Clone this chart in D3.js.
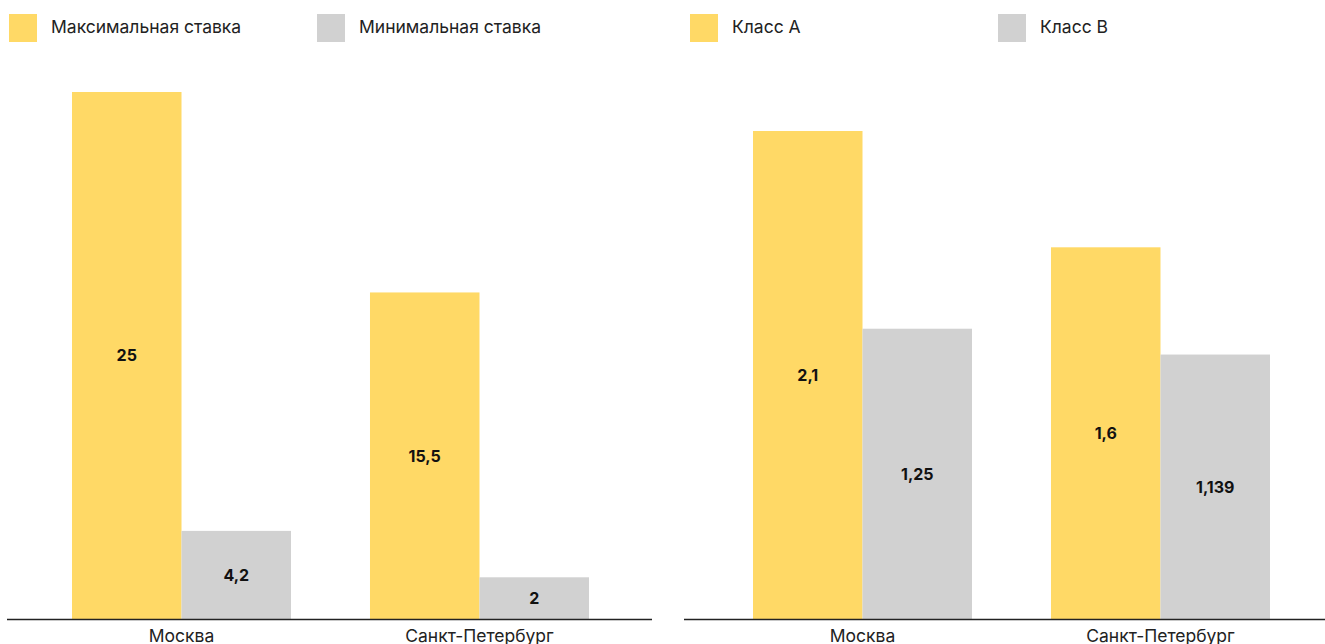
<!DOCTYPE html>
<html lang="ru">
<head>
<meta charset="utf-8">
<script src="https://cdn.jsdelivr.net/npm/d3@7"></script>
<style>
  html, body { margin: 0; padding: 0; background: #fff; }
  svg { display: block; font-family: Inter, "Noto Sans", sans-serif; }
</style>
</head>
<body>
<svg id="chart" width="1325" height="644"></svg>
<script>
// Cities shown on both panels
const cities = ["Москва", "Санкт-Петербург"];

// Left panel: rates
const rateSeries = ["Максимальная ставка", "Минимальная ставка"];
const rateMax = [25, 15.5];
const rateMin = [4.2, 2];

// Right panel: office classes
const classSeries = ["Класс A", "Класс B"];
const classA = [2.1, 1.6];
const classB = [1.25, 1.139];

const colors = ["#FFD966", "#D1D1D1"];
const fmt = v => String(v).replace(".", ",");

const svg = d3.select("#chart");
const baseY = 619.5;

function panel(opts) {
  const g = svg.append("g");
  const rows = cities.map((c, i) => ({ city: c, values: opts.values.map(v => v[i]) }));

  const x0 = d3.scaleBand().domain(cities)
    .range(opts.xRange).paddingInner(0.265).paddingOuter(0);
  const x1 = d3.scaleBand().domain(d3.range(opts.series.length))
    .range([0, x0.bandwidth()]).padding(0);
  const y = d3.scaleLinear()
    .domain([0, d3.max(opts.values.flat())])
    .range([baseY, opts.top]);

  const groups = g.selectAll("g.city").data(rows).join("g")
    .attr("class", "city")
    .attr("transform", d => `translate(${x0(d.city)},0)`);

  groups.selectAll("rect").data(d => d.values).join("rect")
    .attr("x", (d, i) => x1(i))
    .attr("width", x1.bandwidth())
    .attr("y", d => y(d))
    .attr("height", d => y(0) - y(d))
    .attr("fill", (d, i) => colors[i]);

  groups.selectAll("text.val").data(d => d.values).join("text")
    .attr("class", "val")
    .attr("x", (d, i) => x1(i) + x1.bandwidth() / 2)
    .attr("y", d => (y(d) + y(0)) / 2)
    .attr("dy", "0.35em")
    .attr("text-anchor", "middle")
    .attr("font-size", 16)
    .attr("font-weight", 700)
    .attr("fill", "#111")
    .text(d => fmt(d));

  // Baseline with category labels
  g.append("line")
    .attr("x1", opts.axisX[0]).attr("x2", opts.axisX[1])
    .attr("y1", baseY).attr("y2", baseY)
    .attr("stroke", "#222").attr("stroke-width", 1.5);

  g.selectAll("text.cat").data(cities).join("text")
    .attr("class", "cat")
    .attr("x", d => x0(d) + x0.bandwidth() / 2)
    .attr("y", 642)
    .attr("text-anchor", "middle")
    .attr("font-size", 17.5)
    .attr("fill", "#222")
    .text(d => d);

  // Legend
  const lg = g.selectAll("g.leg").data(opts.series).join("g")
    .attr("class", "leg")
    .attr("transform", (d, i) => `translate(${opts.legendX[i]},14)`);
  lg.append("rect").attr("width", 28).attr("height", 28)
    .attr("fill", (d, i) => colors[i]);
  lg.append("text").attr("x", 42).attr("y", 19)
    .attr("font-size", 17.5).attr("fill", "#222")
    .text(d => d);
}

panel({
  series: rateSeries,
  values: [rateMax, rateMin],
  xRange: [72, 589],
  top: 92,
  axisX: [7, 652],
  legendX: [9, 317]
});

panel({
  series: classSeries,
  values: [classA, classB],
  xRange: [753, 1270],
  top: 131,
  axisX: [684, 1325],
  legendX: [690, 998]
});
</script>
</body>
</html>
